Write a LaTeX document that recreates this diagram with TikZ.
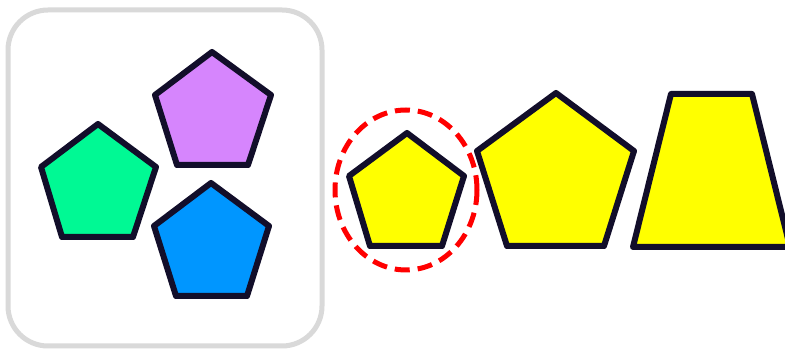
\documentclass[tikz,border=0pt]{standalone}
\definecolor{edgec}{HTML}{120E2A}
\definecolor{purp}{HTML}{D685FD}
\definecolor{grn}{HTML}{00F994}
\definecolor{blu}{HTML}{0096FF}
\definecolor{yel}{HTML}{FFFF00}
\definecolor{frame}{HTML}{D9D9D9}
\definecolor{redc}{HTML}{FF0000}
\tikzset{
  shapebox/.style={draw=edgec, line width=6pt, line join=round},
  framebox/.style={draw=frame, line width=5pt, rounded corners=40pt},
  ringmark/.style={draw=redc, line width=5pt, dash pattern=on 15pt off 8pt},
}
\begin{document}
\begin{tikzpicture}[x=1pt,y=-1pt]
\useasboundingbox (0,0) rectangle (785,352);
\clip (0,0) rectangle (785,352);
\fill[white] (0,0) rectangle (785,352);
\draw[framebox] (8,10) rectangle (322,346);
% purple
\draw[shapebox, fill=purp] (212,52) -- (271,95) -- (248,165) -- (177,165) -- (155,95) -- cycle;
% green
\draw[shapebox, fill=grn] (98,124) -- (156,167) -- (133,237) -- (62,237) -- (41,167) -- cycle;
% blue
\draw[shapebox, fill=blu] (211,183) -- (269,226) -- (247,296) -- (176,296) -- (154,226) -- cycle;
% small yellow
\draw[shapebox, fill=yel] (407,133) -- (464,176) -- (442,246) -- (370,246) -- (349,176) -- cycle;
% dashed ellipse
\draw[ringmark] (406,190) ellipse [x radius=71, y radius=80];
% large yellow
\draw[shapebox, fill=yel] (556,93) -- (634,151) -- (604,246) -- (507,246) -- (477,151) -- cycle;
% trapezoid
\draw[shapebox, fill=yel] (671,94) -- (752,94) -- (790,247) -- (633,247) -- cycle;
\end{tikzpicture}
\end{document}
